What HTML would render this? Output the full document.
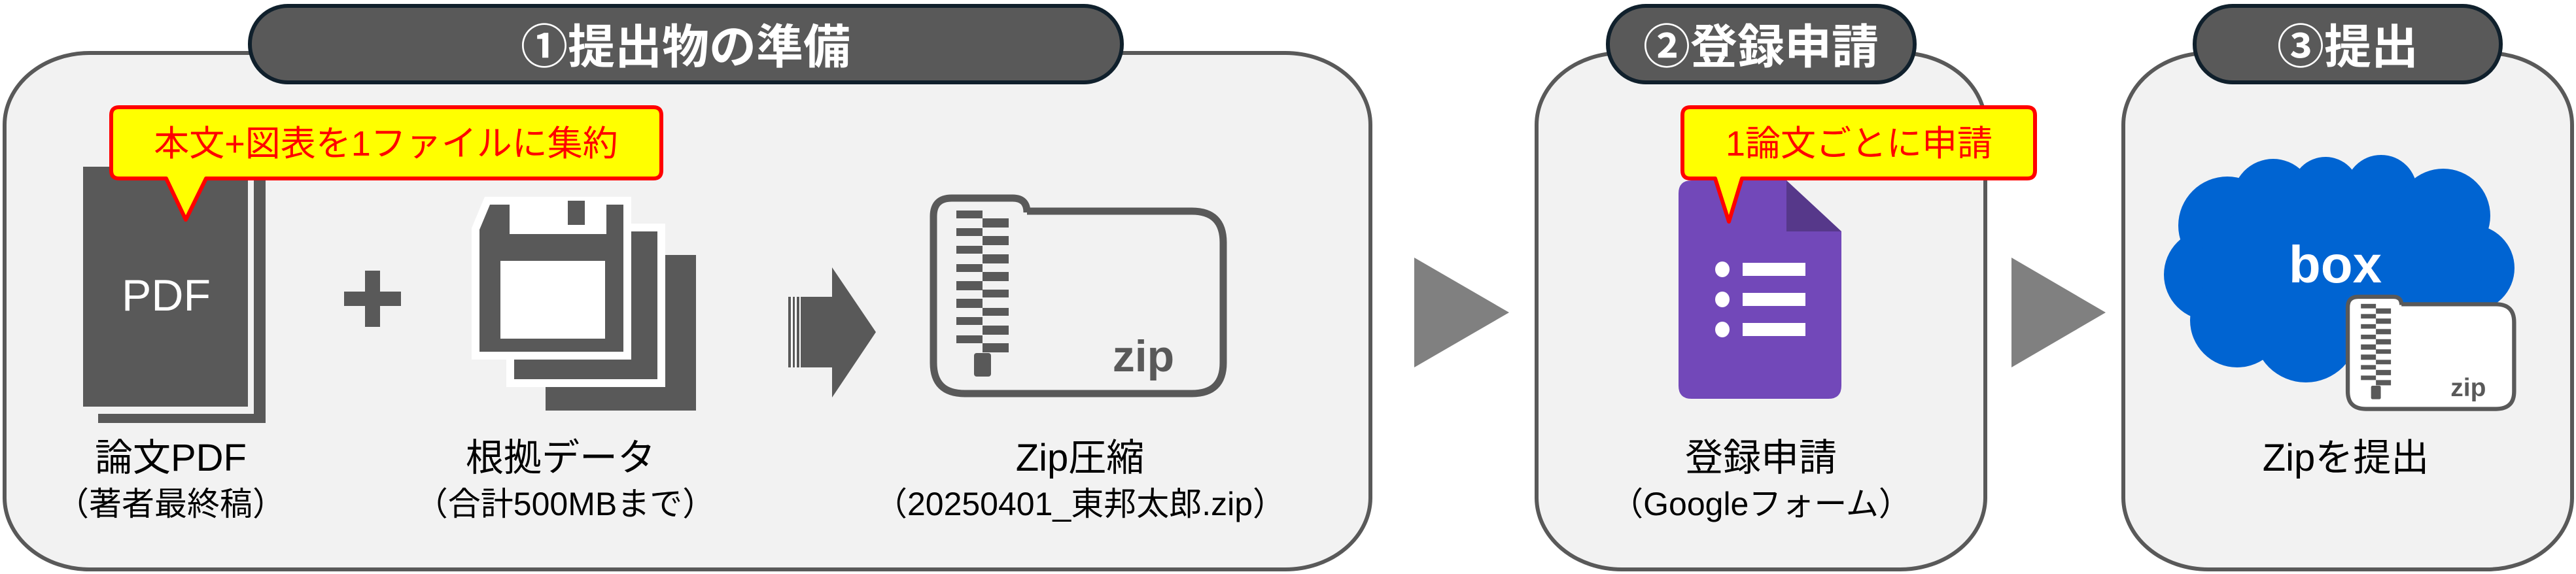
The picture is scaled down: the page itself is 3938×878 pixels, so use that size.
<!DOCTYPE html>
<html><head><meta charset="utf-8"><style>
html,body{margin:0;padding:0;background:#fff;}
svg{display:block;}
text{font-family:"Liberation Sans","Noto Sans CJK JP",sans-serif;}
</style></head><body>
<svg width="3938" height="878" viewBox="0 0 3938 878" xmlns="http://www.w3.org/2000/svg">
<defs>
<g id="zipic">
  <path d="M1455,303 H1548 Q1570,303 1570,325 V323 H1822 Q1870,323 1870,371 V555 Q1870,602 1822,602 H1475 Q1427,602 1427,555 V331 Q1427,303 1455,303 Z" fill="FILL" stroke="#595959" stroke-width="11"/>
  <g fill="#595959">
    <rect x="1462" y="322" width="40" height="12"/><rect x="1502" y="334" width="40" height="14"/>
    <rect x="1462" y="349" width="40" height="12"/><rect x="1502" y="361" width="40" height="14"/>
    <rect x="1462" y="376" width="40" height="12"/><rect x="1502" y="389" width="40" height="14"/>
    <rect x="1462" y="404" width="40" height="12"/><rect x="1502" y="416" width="40" height="14"/>
    <rect x="1462" y="430" width="40" height="14"/><rect x="1502" y="443" width="40" height="12"/>
    <rect x="1462" y="457" width="40" height="14"/><rect x="1502" y="471" width="40" height="12"/>
    <rect x="1462" y="485" width="40" height="12"/><rect x="1502" y="498" width="40" height="14"/>
    <rect x="1462" y="513" width="40" height="12"/><rect x="1502" y="525" width="40" height="14"/>
    <rect x="1489" y="540" width="26" height="36" rx="4"/>
  </g>
  <text x="1748" y="568" font-size="68" font-weight="bold" fill="#595959" text-anchor="middle">zip</text>
</g>
</defs>

<!-- Panels -->
<rect x="7" y="81" width="2088" height="790" rx="130" ry="110" fill="#f2f2f2" stroke="#595959" stroke-width="6"/>
<rect x="2349" y="81" width="686" height="790" rx="130" ry="110" fill="#f2f2f2" stroke="#595959" stroke-width="6"/>
<rect x="3246" y="81" width="686" height="790" rx="130" ry="110" fill="#f2f2f2" stroke="#595959" stroke-width="6"/>

<!-- Tabs -->
<rect x="382" y="9" width="1333" height="117" rx="58" fill="#595959" stroke="#10202c" stroke-width="6"/>
<text x="1048" y="97" font-size="72" font-weight="bold" fill="#fff" text-anchor="middle">①提出物の準備</text>
<rect x="2458" y="9" width="469" height="117" rx="58" fill="#595959" stroke="#10202c" stroke-width="6"/>
<text x="2692" y="97" font-size="72" font-weight="bold" fill="#fff" text-anchor="middle">②登録申請</text>
<rect x="3355" y="9" width="468" height="117" rx="58" fill="#595959" stroke="#10202c" stroke-width="6"/>
<text x="3589" y="97" font-size="72" font-weight="bold" fill="#fff" text-anchor="middle">③提出</text>

<!-- PDF doc -->
<path d="M388,274 H406 V647 H150 V633 H388 Z" fill="#595959"/>
<rect x="127" y="255" width="252" height="367" fill="#595959"/>
<text x="254" y="475" font-size="68" fill="#fff" text-anchor="middle">PDF</text>

<!-- Plus -->
<rect x="558" y="414" width="23" height="86" fill="#595959"/>
<rect x="526" y="446" width="87" height="22" fill="#595959"/>

<!-- Floppies -->
<g>
  <path d="M834,390 H1064 V628 H834 Z" fill="#595959"/>
  <path d="M780,348 H1011 V586 H780 Z" fill="#595959" stroke="#fff" stroke-width="12"/>
  <path d="M745,307 H959 V544 H727 V350 Z" fill="#595959" stroke="#fff" stroke-width="12"/>
  <rect x="779" y="307" width="148" height="51" fill="#fff"/>
  <rect x="868" y="307" width="26" height="37" fill="#595959"/>
  <rect x="765" y="399" width="160" height="119" fill="#fff"/>
  <path d="M727,350 L745,307 H959 V544 H727 Z" fill="none"/>
</g>

<!-- Striped arrow -->
<rect x="1205" y="454" width="67" height="108" fill="#595959"/>
<rect x="1209" y="454" width="3" height="108" fill="#fff"/>
<rect x="1215" y="454" width="3" height="108" fill="#fff"/>
<rect x="1222" y="454" width="2" height="108" fill="#fff"/>
<path d="M1272,409 L1339,508 L1272,608 Z" fill="#595959"/>

<!-- Zip folder big -->
<g>
  <path d="M1455,303 H1548 Q1570,303 1570,325 V323 H1822 Q1870,323 1870,371 V555 Q1870,602 1822,602 H1475 Q1427,602 1427,555 V331 Q1427,303 1455,303 Z" fill="#f2f2f2" stroke="#595959" stroke-width="11"/>
  <g fill="#595959">
    <rect x="1462" y="322" width="40" height="12"/><rect x="1502" y="334" width="40" height="14"/>
    <rect x="1462" y="349" width="40" height="12"/><rect x="1502" y="361" width="40" height="14"/>
    <rect x="1462" y="376" width="40" height="12"/><rect x="1502" y="389" width="40" height="14"/>
    <rect x="1462" y="404" width="40" height="12"/><rect x="1502" y="416" width="40" height="14"/>
    <rect x="1462" y="430" width="40" height="14"/><rect x="1502" y="443" width="40" height="12"/>
    <rect x="1462" y="457" width="40" height="14"/><rect x="1502" y="471" width="40" height="12"/>
    <rect x="1462" y="485" width="40" height="12"/><rect x="1502" y="498" width="40" height="14"/>
    <rect x="1462" y="513" width="40" height="12"/><rect x="1502" y="525" width="40" height="14"/>
    <rect x="1489" y="540" width="26" height="36" rx="4"/>
  </g>
  <text x="1748" y="568" font-size="68" font-weight="bold" fill="#595959" text-anchor="middle">zip</text>
</g>

<!-- Callout 1 -->
<path d="M182,164 H999 Q1011,164 1011,176 V261 Q1011,273 999,273 H315 L284,336 L254,273 H182 Q170,273 170,261 V176 Q170,164 182,164 Z" fill="#ffff00" stroke="#ff0000" stroke-width="6" stroke-linejoin="round"/>
<text x="590" y="238" font-size="54" fill="#ff0000" text-anchor="middle">本文+図表を1ファイルに集約</text>

<!-- Labels panel 1 -->
<text x="261" y="720" font-size="58" fill="#000" text-anchor="middle">論文PDF</text>
<text x="261" y="788" font-size="50" fill="#000" text-anchor="middle">（著者最終稿）</text>
<text x="857" y="720" font-size="58" fill="#000" text-anchor="middle">根拠データ</text>
<text x="864" y="788" font-size="50" fill="#000" text-anchor="middle">（合計500MBまで）</text>
<text x="1651" y="720" font-size="58" fill="#000" text-anchor="middle">Zip圧縮</text>
<text x="1651" y="788" font-size="50" fill="#000" text-anchor="middle">（20250401_東邦太郎.zip）</text>

<!-- Triangles -->
<path d="M2162,394 L2307,478 L2162,562 Z" fill="#808080"/>
<path d="M3075,394 L3219,478 L3075,562 Z" fill="#808080"/>

<!-- Google form -->
<path d="M2586,276 H2731 L2815,354 V590 Q2815,610 2795,610 H2586 Q2566,610 2566,590 V296 Q2566,276 2586,276 Z" fill="#7248b9"/>
<path d="M2731,276 L2815,354 H2731 Z" fill="#56388a"/>
<g fill="#fff">
  <ellipse cx="2633" cy="412" rx="11" ry="12"/><rect x="2664" y="402" width="96" height="20"/>
  <ellipse cx="2633" cy="458" rx="11" ry="12"/><rect x="2664" y="448" width="96" height="20"/>
  <ellipse cx="2633" cy="504" rx="11" ry="12"/><rect x="2664" y="494" width="96" height="20"/>
</g>

<!-- Callout 2 -->
<path d="M2584,164 H3099 Q3111,164 3111,176 V261 Q3111,273 3099,273 H2663 L2643,339 L2622,273 H2584 Q2572,273 2572,261 V176 Q2572,164 2584,164 Z" fill="#ffff00" stroke="#ff0000" stroke-width="6" stroke-linejoin="round"/>
<text x="2842" y="238" font-size="54" fill="#ff0000" text-anchor="middle">1論文ごとに申請</text>

<text x="2692" y="720" font-size="58" fill="#000" text-anchor="middle">登録申請</text>
<text x="2692" y="788" font-size="50" fill="#000" text-anchor="middle">（Googleフォーム）</text>

<!-- Cloud -->
<g fill="#0064d2">
  <circle cx="3405" cy="345" r="75"/>
  <circle cx="3475" cy="305" r="62"/>
  <circle cx="3555" cy="292" r="52"/>
  <circle cx="3640" cy="292" r="55"/>
  <circle cx="3735" cy="330" r="72"/>
  <circle cx="3778" cy="410" r="66"/>
  <circle cx="3760" cy="480" r="60"/>
  <circle cx="3650" cy="500" r="70"/>
  <circle cx="3525" cy="505" r="80"/>
  <circle cx="3420" cy="490" r="72"/>
  <circle cx="3378" cy="420" r="70"/>
  <ellipse cx="3570" cy="410" rx="210" ry="120"/>
</g>
<text x="3570" y="432" font-size="80" font-weight="bold" fill="#fff" text-anchor="middle">box</text>

<!-- Small zip -->
<g transform="translate(2770,280) scale(0.574)">
  <path d="M1455,303 H1548 Q1570,303 1570,325 V323 H1822 Q1870,323 1870,371 V555 Q1870,602 1822,602 H1475 Q1427,602 1427,555 V331 Q1427,303 1455,303 Z" fill="#fff" stroke="#595959" stroke-width="11"/>
  <g fill="#595959">
    <rect x="1462" y="322" width="40" height="12"/><rect x="1502" y="334" width="40" height="14"/>
    <rect x="1462" y="349" width="40" height="12"/><rect x="1502" y="361" width="40" height="14"/>
    <rect x="1462" y="376" width="40" height="12"/><rect x="1502" y="389" width="40" height="14"/>
    <rect x="1462" y="404" width="40" height="12"/><rect x="1502" y="416" width="40" height="14"/>
    <rect x="1462" y="430" width="40" height="14"/><rect x="1502" y="443" width="40" height="12"/>
    <rect x="1462" y="457" width="40" height="14"/><rect x="1502" y="471" width="40" height="12"/>
    <rect x="1462" y="485" width="40" height="12"/><rect x="1502" y="498" width="40" height="14"/>
    <rect x="1462" y="513" width="40" height="12"/><rect x="1502" y="525" width="40" height="14"/>
    <rect x="1489" y="540" width="26" height="36" rx="4"/>
  </g>
  <text x="1748" y="568" font-size="68" font-weight="bold" fill="#595959" text-anchor="middle">zip</text>
</g>

<text x="3586" y="720" font-size="58" fill="#000" text-anchor="middle">Zipを提出</text>
</svg>
</body></html>
